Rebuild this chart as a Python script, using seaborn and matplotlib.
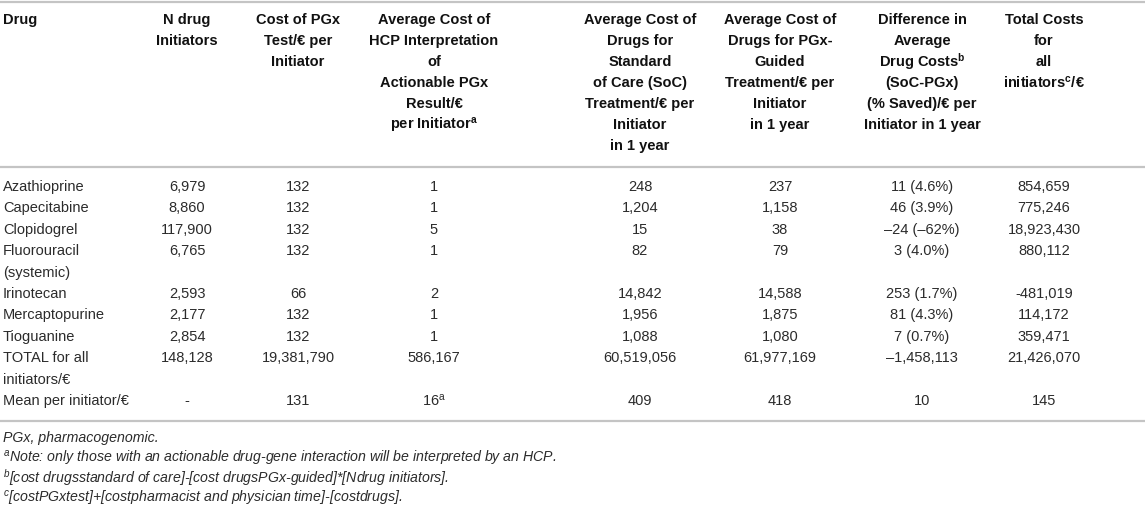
import matplotlib
matplotlib.use('Agg')
import matplotlib.pyplot as plt
import seaborn as sns

# table content
headers = [
    'Drug',
    'N drug\nInitiators',
    'Cost of PGx\nTest/€ per\nInitiator',
    'Average Cost of\nHCP Interpretation\nof\nActionable PGx\nResult/€\nper Initiator$^{\\mathbf{a}}$',
    'Average Cost of\nDrugs for\nStandard\nof Care (SoC)\nTreatment/€ per\nInitiator\nin 1 year',
    'Average Cost of\nDrugs for PGx-\nGuided\nTreatment/€ per\nInitiator\nin 1 year',
    'Difference in\nAverage\nDrug Costs$^{\\mathbf{b}}$\n(SoC-PGx)\n(% Saved)/€ per\nInitiator in 1 year',
    'Total Costs\nfor\nall\ninitiators$^{\\mathbf{c}}$/€',
]
drugs = ['Azathioprine', 'Capecitabine', 'Clopidogrel', 'Fluorouracil\n(systemic)',
         'Irinotecan', 'Mercaptopurine', 'Tioguanine', 'TOTAL for all\ninitiators/€',
         'Mean per initiator/€']
n_initiators = ['6,979', '8,860', '117,900', '6,765', '2,593', '2,177', '2,854', '148,128', '-']
cost_pgx_test = ['132', '132', '132', '132', '66', '132', '132', '19,381,790', '131']
cost_hcp = ['1', '1', '5', '1', '2', '1', '1', '586,167', '16$^{\\mathrm{a}}$']
cost_soc = ['248', '1,204', '15', '82', '14,842', '1,956', '1,088', '60,519,056', '409']
cost_pgx_guided = ['237', '1,158', '38', '79', '14,588', '1,875', '1,080', '61,977,169', '418']
diff_cost = ['11 (4.6%)', '46 (3.9%)', '–24 (–62%)', '3 (4.0%)', '253 (1.7%)', '81 (4.3%)',
             '7 (0.7%)', '–1,458,113', '10']
total_cost = ['854,659', '775,246', '18,923,430', '880,112', '-481,019', '114,172', '359,471',
              '21,426,070', '145']
footnotes = [
    'PGx, pharmacogenomic.',
    '$^{\\mathit{a}}$Note: only those with an actionable drug-gene interaction will be interpreted by an HCP.',
    '$^{\\mathit{b}}$[cost drugsstandard of care]-[cost drugsPGx-guided]*[Ndrug initiators].',
    '$^{\\mathit{c}}$[costPGxtest]+[costpharmacist and physician time]-[costdrugs].',
]

columns = [drugs, n_initiators, cost_pgx_test, cost_hcp, cost_soc, cost_pgx_guided,
           diff_cost, total_cost]

sns.set_theme(style='white')
plt.rcParams['font.family'] = ['Liberation Sans', 'DejaVu Sans']
plt.rcParams['mathtext.fontset'] = 'custom'
plt.rcParams['mathtext.rm'] = 'Liberation Sans'
plt.rcParams['mathtext.it'] = 'Liberation Sans:italic'
plt.rcParams['mathtext.bf'] = 'Liberation Sans:bold'

W, H = 1145, 507
fig = plt.figure(figsize=(W / 100, H / 100), dpi=100)
ax = fig.add_axes([0, 0, 1, 1])
ax.set_xlim(0, W)
ax.set_ylim(H, 0)
ax.axis('off')

col_x = [3, 187, 298, 434, 640, 780, 922, 1044]
rule_color = '#c4c4c4'
text_color = '#2b2b2b'

# header
for i, (hdr, x) in enumerate(zip(headers, col_x)):
    ha = 'left' if i == 0 else 'center'
    for j, line in enumerate(hdr.split('\n')):
        ax.text(x, 20 + 21 * j, line, ha=ha, va='center', fontsize=10.5,
                fontweight='bold', color='#111111')

# rules
for y in [1.5, 167, 421]:
    ax.axhline(y, color=rule_color, lw=1.6)

# body
line_h = 21.4
y0 = 187
line_idx = 0
for r in range(len(drugs)):
    y = y0 + line_h * line_idx
    for c, (col, x) in enumerate(zip(columns, col_x)):
        ha = 'left' if c == 0 else 'center'
        for j, line in enumerate(col[r].split('\n')):
            ax.text(x, y + line_h * j, line, ha=ha, va='center', fontsize=10.5,
                    color=text_color)
    line_idx += len(drugs[r].split('\n'))

# footnotes
for k, note in enumerate(footnotes):
    ax.text(3, 438 + 20 * k, note, ha='left', va='center', fontsize=10.2,
            style='italic', color=text_color)

fig.savefig('out.png', dpi=100)
